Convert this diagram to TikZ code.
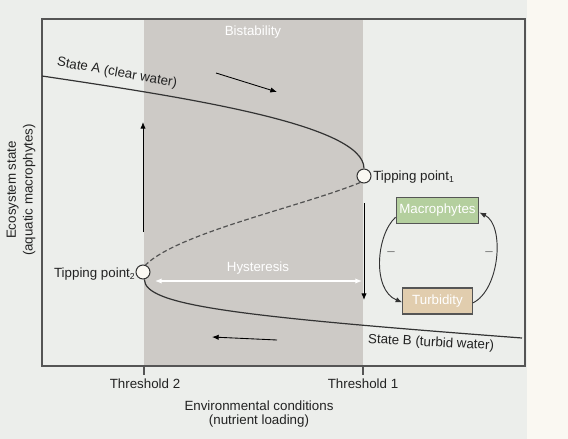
\documentclass[tikz,border=0pt]{standalone}
\usepackage{fontspec}
\setmainfont{Liberation Sans}
\usetikzlibrary{arrows.meta}
\definecolor{bg}{HTML}{ECEEEB}
\definecolor{cream}{HTML}{FAF8F2}
\definecolor{shadec}{HTML}{CDCAC6}
\definecolor{framec}{HTML}{555555}
\definecolor{curvec}{HTML}{333333}
\definecolor{macgreen}{HTML}{B4CF9E}
\definecolor{turbtan}{HTML}{E1CDAE}
\definecolor{txt}{HTML}{222222}
\definecolor{minusc}{HTML}{777777}
\begin{document}
\begin{tikzpicture}[x=0.75pt,y=-0.75pt,
  font=\fontsize{10}{12}\selectfont, text=txt,
  curvestyle/.style={draw=curvec,line width=0.9pt},
  arr/.style={draw=black,line width=0.65pt,-{Latex[length=5pt,width=4pt]}},
  tpoint/.style={circle,draw=curvec,fill=cream,line width=0.8pt,minimum size=10.5pt,inner sep=0pt},
  lbl/.style={inner sep=0pt},
  wlbl/.style={inner sep=0pt,text=white},
  fbox/.style={draw=framec,line width=0.8pt,text=white,inner sep=0pt},
  fb/.style={draw=curvec,line width=0.7pt,-{Latex[length=5pt,width=4pt]}}]
\useasboundingbox (0,0) rectangle (568,439);
% backgrounds
\fill[bg] (0,0) rectangle (527,439);
\fill[cream] (527,0) rectangle (568,439);
\fill[shadec] (144,19) rectangle (363,366);
\draw[framec,line width=0.8pt] (42,19) rectangle (525,366);
% ticks
\coordinate (t2a) at (144,366); \coordinate (t2b) at (144,375);
\coordinate (t1a) at (363,366); \coordinate (t1b) at (363,375);
\draw[framec,line width=0.8pt] (t2a) -- (t2b);
\draw[framec,line width=0.8pt] (t1a) -- (t1b);
% tipping points
\node[tpoint] (tp1) at (364,176) {};
\node[tpoint] (tp2) at (143,272) {};
\coordinate (sA) at (42,76);
\coordinate (sB) at (522,338);
% curves
\draw[curvestyle] (sA) .. controls (190,98) and (364,125) .. (tp1.north);
\draw[curvestyle,dashed,dash pattern=on 3.5pt off 2pt,draw=curvec!85] (tp1.-120) .. controls (300,207) and (178,233) .. (tp2.70);
\draw[curvestyle] (tp2.-80) .. controls (145,305) and (230,316) .. (sB);
% labels
\node[wlbl] (bist) at (253,32) {Bistability};
\node[lbl,rotate=-10] (stA) at (117,73) {State A (clear water)};
\node[lbl,rotate=-3] (stB) at (431,343) {State B (turbid water)};
\node[lbl,anchor=west] (tp1l) at (373,177) {Tipping point{\fontsize{6.5}{7}\selectfont\raisebox{-1.5pt}{1}}};
\node[lbl,anchor=east] (tp2l) at (135,274) {Tipping point{\fontsize{6.5}{7}\selectfont\raisebox{-1.5pt}{2}}};
\node[wlbl] (hyst) at (258,268) {Hysteresis};
\node[lbl] (th2) at (145,384) {Threshold 2};
\node[lbl] (th1) at (363,384) {Threshold 1};
\node[lbl,align=center,font=\fontsize{10}{10.5}\selectfont] (xl) at (259,414) {Environmental conditions\\(nutrient loading)};
\node[lbl,align=center,rotate=90,font=\fontsize{10}{12.5}\selectfont] (yl) at (21,190) {Ecosystem state\\(aquatic macrophytes)};
% arrows
\coordinate (ua) at (143,232); \coordinate (ub) at (143,122);
\draw[arr] (ua) -- (ub);
\coordinate (da) at (364,203); \coordinate (db) at (364,300);
\draw[arr] (da) -- (db);
\coordinate (ta) at (216,73); \coordinate (tb) at (277,92);
\draw[arr] (ta) -- (tb);
\coordinate (ba) at (277,340); \coordinate (bb) at (212,337);
\draw[arr] (ba) -- (bb);
\coordinate (ha) at (155,281); \coordinate (hb) at (362,281);
\draw[draw=white,line width=0.9pt,{Latex[length=5pt,width=4pt]}-{Latex[length=5pt,width=4pt]}] (ha) -- (hb);
% feedback loop
\node[fbox,fill=macgreen,minimum width=62pt,minimum height=20pt] (mac) at (437.5,210.5) {Macrophytes};
\node[fbox,fill=turbtan,minimum width=52pt,minimum height=19.5pt] (turb) at (437.5,301) {Turbidity};
\draw[fb] ([yshift=-5pt]mac.west) .. controls (376,235) and (372,290) .. ([yshift=-1pt]turb.west);
\draw[fb] ([yshift=-1.5pt]turb.east) .. controls (500,290) and (505,225) .. ([yshift=-1.5pt]mac.east);
\node[lbl,text=minusc] (m1) at (391,254) {–};
\node[lbl,text=minusc] (m2) at (489,254) {–};
\end{tikzpicture}
\end{document}
